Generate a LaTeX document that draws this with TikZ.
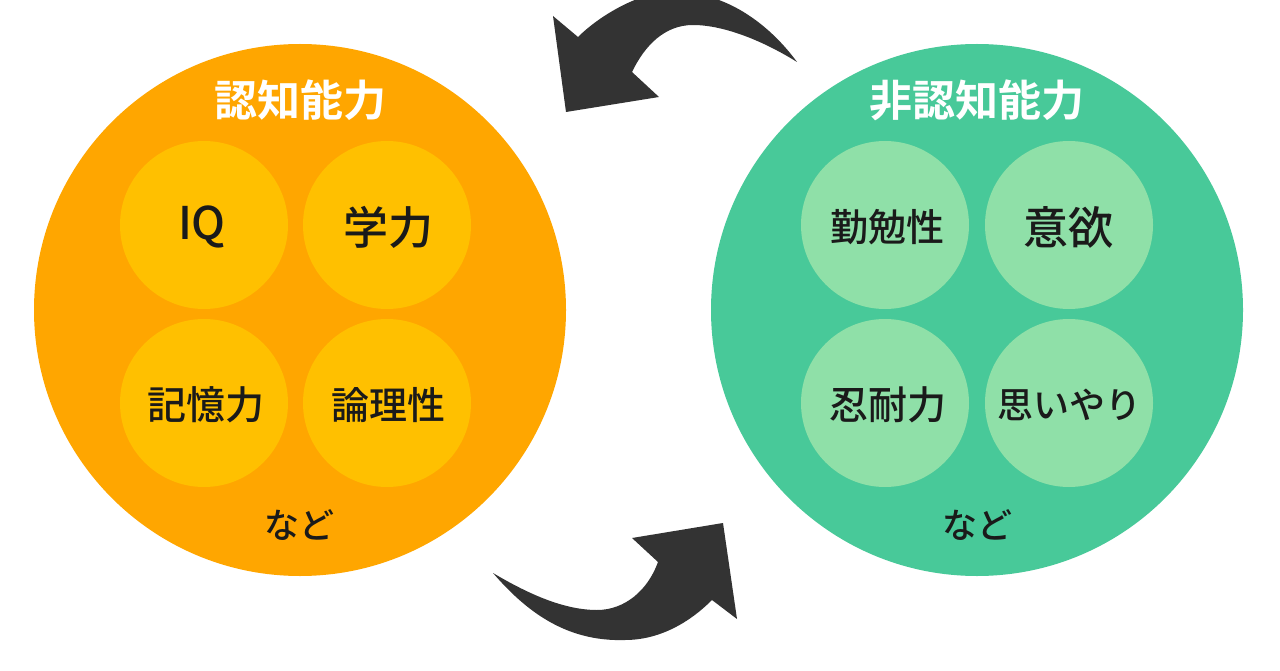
\documentclass[tikz,border=0pt]{standalone}
\usepackage{fontspec}
\newfontfamily\jp{Noto Sans CJK JP Medium}
\newfontfamily\jpb{Noto Sans CJK JP Bold}
\definecolor{orangeo}{HTML}{FFA600}
\definecolor{orangei}{HTML}{FFC000}
\definecolor{greeno}{HTML}{48C999}
\definecolor{greeni}{HTML}{8FE0A8}
\definecolor{arrowc}{HTML}{333333}
\definecolor{inkc}{HTML}{1A1A1A}
\newcommand{\fsz}[1]{\fontsize{#1}{#1}\selectfont}
\tikzset{
  bigo/.style={circle,fill=orangeo,minimum size=532pt,inner sep=0pt},
  bigg/.style={circle,fill=greeno,minimum size=532pt,inner sep=0pt},
  smallo/.style={circle,fill=orangei,minimum size=168pt,inner sep=0pt,text=inkc,font=\jp},
  smallg/.style={circle,fill=greeni,minimum size=168pt,inner sep=0pt,text=inkc,font=\jp},
  titlet/.style={text=white,font=\jp,inner sep=0pt},
  etc/.style={text=inkc,font=\jp\fsz{35pt},inner sep=0pt},
  curved/.style={fill=arrowc,draw=none},
  lbl/.style={text=inkc,font=\jp,inner sep=0pt},
}
\begin{document}
\begin{tikzpicture}[x=1pt,y=-1pt]
\useasboundingbox (0,0) rectangle (1280,671);
\fill[white] (0,0) rectangle (1280,671);
\node[bigo] (L) at (300,310) {};
\node[bigg] (R) at (977,310) {};
\node[smallo] (iq) at (204,225) {};
\node[smallo] (gaku) at (387,225) {};
\node[smallo] (kioku) at (204,403) {};
\node[smallo] (ronri) at (387,403) {};
\node[smallg] (kinben) at (885,225) {};
\node[smallg] (iyoku) at (1069,225) {};
\node[smallg] (nintai) at (885,403) {};
\node[smallg] (omoi) at (1069,403) {};
\node[lbl] (iqt) at (202,227) {\fsz{45pt}IQ};
\node[lbl] (gakut) at (388,227) {\fsz{45pt}学力};
\node[lbl] (kiokut) at (206,405) {\fsz{39pt}記憶力};
\node[lbl] (ronrit) at (388,405) {\fsz{38pt}論理性};
\node[lbl] (kinbent) at (887,227) {\fsz{38pt}勤勉性};
\node[lbl] (iyokut) at (1068,227) {\fsz{45pt}意欲};
\node[lbl] (nintait) at (888,405) {\fsz{39pt}忍耐力};
\node[lbl] (omoit) at (1069,405) {\fsz{36pt}思いやり};
\node[titlet] (tL) at (300,100) {\jpb\fsz{43pt}認知能力};
\node[titlet] (tR) at (977,100) {\jpb\fsz{43pt}非認知能力};
\node[etc] (nL) at (299,525) {など};
\node[etc] (nR) at (977,525) {など};
% upper arrow
\fill[curved] (797,62)
  .. controls (765,42) and (725,25) .. (693,25)
  .. controls (665,25) and (645,45) .. (632,72)
  -- (659,97) -- (566,112) -- (553,16) -- (578,37)
  .. controls (595,20) and (620,5) .. (640,-2)
  -- (713,-2)
  .. controls (745,8) and (775,32) .. cycle;
% lower arrow
\fill[curved] (493,573)
  .. controls (530,595) and (565,610) .. (597,610)
  .. controls (625,610) and (648,590) .. (658,562)
  -- (632,538) -- (723,523) -- (737,619) -- (712,600)
  .. controls (690,622) and (660,640) .. (625,640)
  .. controls (565,642) and (525,610) .. cycle;
\end{tikzpicture}
\end{document}
